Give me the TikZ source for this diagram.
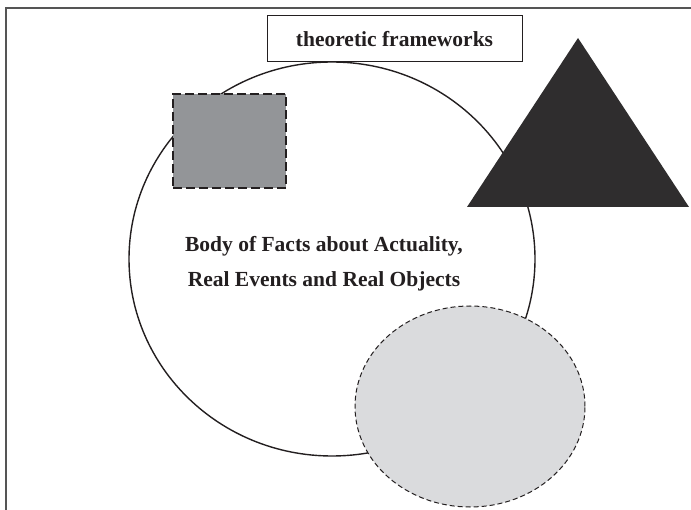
\documentclass[tikz,border=0pt]{standalone}
\usepackage{fontspec}
\setmainfont{Liberation Serif}
\usetikzlibrary{shapes.geometric}
\definecolor{ink}{HTML}{231F20}
\definecolor{squaregray}{HTML}{939598}
\definecolor{trianglefill}{HTML}{2F2D2E}
\definecolor{ovalgray}{HTML}{DADBDD}
\definecolor{framegray}{HTML}{555555}
\tikzset{
  label text/.style={font=\bfseries\fontsize{21.5}{35}\selectfont, text=ink, align=center},
  dashed edge/.style={draw=ink, line width=1.2pt, dash pattern=on 9pt off 4pt},
}
\begin{document}
\begin{tikzpicture}[x=1pt, y=-1pt]
  \useasboundingbox (0,0) rectangle (691,510);
  % open frame: top and left sides only
  \draw[framegray, line width=2pt] (6,510) -- (6,8) -- (691,8);
  % large circle holding the body of facts
  \node (facts) [draw=ink, line width=1.4pt, ellipse, minimum width=406pt, minimum height=394pt, inner sep=0pt] at (332,259) {};
  \node (factstext) [label text] at (324,264) {Body of Facts about Actuality,\\ Real Events and Real Objects};
  % heading box
  \node (frame) [draw=ink, line width=1pt, minimum width=255pt, minimum height=46pt, label text, fill=white] at (394.5,39) {theoretic frameworks};
  % grey square, dashed border
  \node (square) [rectangle, fill=squaregray, dashed edge, minimum width=113pt, minimum height=94pt, inner sep=0pt] at (229.5,141) {};
  % dark triangle
  \coordinate (apex) at (578,38);
  \coordinate (baseL) at (467,207);
  \coordinate (baseR) at (689,207);
  \fill[trianglefill] (apex) -- (baseR) -- (baseL) -- cycle;
  % light oval, dashed border
  \node (oval) [ellipse, fill=ovalgray, dashed edge, line width=1pt, dash pattern=on 5pt off 3pt, minimum width=230pt, minimum height=201pt, inner sep=0pt] at (470,406.5) {};
\end{tikzpicture}
\end{document}
